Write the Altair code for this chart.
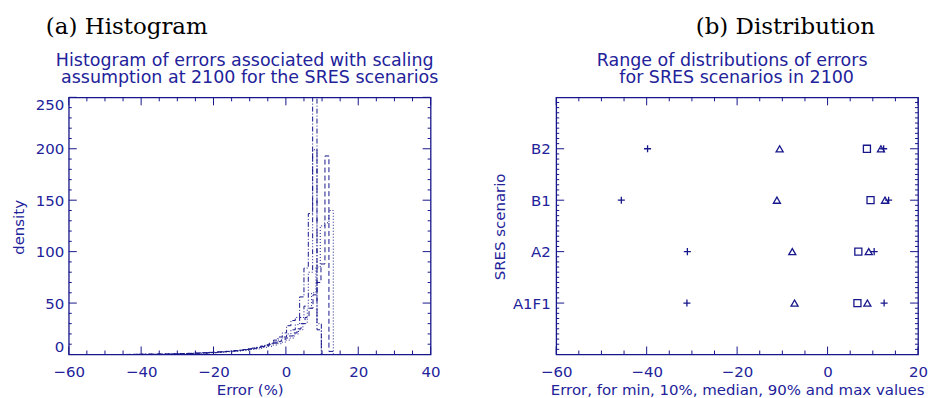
import altair as alt
import pandas as pd

NAVY = "#17178c"
TEXT = "#22229a"
SANS = "DejaVu Sans"
SERIF = "DejaVu Serif"

W, H = 363, 258          # plot area of each panel
MAJ, MINL = 8, 4         # inward tick lengths

# ---------------- text ----------------
caption_a = "(a) Histogram"
caption_b = "(b) Distribution"
title_a = ["Histogram of errors associated with scaling",
           "assumption at 2100 for the SRES scenarios"]
title_b = ["Range of distributions of errors",
           "for SRES scenarios in 2100"]
xtitle_a = "Error (%)"
ytitle_a = "density"
xtitle_b = "Error, for min, 10%, median, 90% and max values"
ytitle_b = "SRES scenario"

# ---------------- histogram data ----------------
series_names = ["dashdotdot", "dotted", "dashed", "dashdot"]
series_dash = [[5, 2, 1, 2, 1, 2, 1, 2], [1, 2], [5, 3], [5, 2, 1, 2]]
hist_start = [-31.0, -42.1, -44.2, -40.6]
hist_width = [1.2, 1.2, 1.1, 1.2]
hist_s1 = [0.3, 0.5, 0.6, 0.8, 0.9, 1.1, 1.3, 1.5, 1.8, 2.0,
           2.3, 2.6, 3.0, 3.3, 3.7, 4.2, 4.7, 5.3, 6.0, 6.8,
           7.8, 9.0, 10.5, 12, 14, 17, 20, 24, 29, 36, 47, 80,
           199, 30]
hist_dotted = [0.2, 0.1, 0.3, 0.2, 0.3, 0.4, 0.3, 0.5, 0.5, 0.6,
               0.7, 0.8, 0.8, 1.0, 1.1, 1.3, 1.2, 1.5, 1.7, 1.9,
               2.2, 2.4, 2.7, 3.0, 3.4, 3.8, 4.2, 4.8, 5.4, 6.0,
               7.0, 8.0, 9.2, 10.5, 12, 14, 16, 20, 24, 30, 45, 60, 85, 125, 128,
               140]
hist_dashed = [0.1, 0.2, 0.2, 0.3, 0.2, 0.4, 0.3, 0.5, 0.4, 0.6,
               0.6, 0.8, 0.7, 1.0, 0.9, 1.2, 1.1, 1.5, 1.4, 1.8,
               1.7, 2.1, 2.3, 2.6, 2.5, 3.0, 3.2, 3.6, 3.9, 4.3,
               4.8, 5.4, 6.0, 6.8, 7.6, 8.5, 9.6, 11, 12.5, 14,
               16, 18, 21, 25, 30, 36, 45, 58, 70, 88,
               193, 3]
hist_dashdot = [0.3, 0.2, 0.4, 0.3, 0.5, 0.4, 0.6, 0.5, 0.8, 0.7,
                1.0, 0.9, 1.3, 1.2, 1.6, 1.5, 2.0, 1.8, 2.4, 2.6,
                3.0, 3.3, 3.8, 4.2, 4.8, 5.5, 6.2, 7.0, 8.2, 9.5,
                11, 14, 17, 21, 28, 33, 36, 56, 84, 137, 250, 24]
hist_values = [hist_s1, hist_dotted, hist_dashed, hist_dashdot]

# ---------------- distribution data ----------------
scenarios = ["A1F1", "A2", "B1", "B2"]
scen_pos = [1, 2, 3, 4]
err_min = [-31.1, -31.0, -45.6, -39.8]
err_p10 = [-7.3, -7.8, -11.2, -10.6]
err_med = [6.6, 6.8, 9.5, 8.7]
err_p90 = [8.8, 9.1, 12.7, 11.8]
err_max = [12.5, 10.3, 13.5, 12.4]

# ---------------- axis tick values ----------------
xa_major = [-60, -40, -20, 0, 20, 40]
xa_minor = [v for v in range(-60, 41, 5) if v % 20]
ya_major = [0, 50, 100, 150, 200, 250]
ya_minor = [v for v in range(0, 251, 10) if v % 50]
xb_major = [-60, -40, -20, 0, 20]
xb_minor = [v for v in range(-60, 21, 5) if v % 20]
yb_major = [1, 2, 3, 4]
yb_minor = [i / 10 for i in range(0, 51) if i % 10]

# ---------------- build tables ----------------
rows = []
for name, start, width, vals in zip(series_names, hist_start, hist_width, hist_values):
    rows.append({"series": name, "order": 0, "x": start, "y": 0.0})
    for i, v in enumerate(vals):
        rows.append({"series": name, "order": i + 1, "x": start + i * width, "y": v})
    rows.append({"series": name, "order": len(vals) + 1,
                 "x": start + len(vals) * width, "y": 0.0})
hist_df = pd.DataFrame(rows)

prow = []
for s, p, a, b, c, d, e in zip(scenarios, scen_pos, err_min, err_p10, err_med, err_p90, err_max):
    prow += [{"scen": s, "pos": p, "v": a, "mk": "plus"},
             {"scen": s, "pos": p, "v": b, "mk": "tri"},
             {"scen": s, "pos": p, "v": c, "mk": "sq"},
             {"scen": s, "pos": p, "v": d, "mk": "tri"},
             {"scen": s, "pos": p, "v": e, "mk": "plus"}]
pts_df = pd.DataFrame(prow)

xs_a = alt.Scale(domain=[-60, 40], nice=False, zero=False)
ys_a = alt.Scale(domain=[0, 250], nice=False)
xs_b = alt.Scale(domain=[-60, 20], nice=False, zero=False)
ys_b = alt.Scale(domain=[0, 5], nice=False)

COMMON = dict(ticks=False, tickSize=0, domain=False, grid=False,
              labelFont=SANS, labelFontSize=15, labelColor=TEXT,
              titleFont=SANS, titleFontSize=15, titleFontWeight="normal", titleColor=TEXT)


def xaxis(vals, title):
    return alt.Axis(values=vals, title=title, labelPadding=10, labelFlush=False, format="d",
                    titleX=W / 2, titleY=40, titleAlign="center", titleBaseline="alphabetic",
                    **COMMON)


ax_xa = xaxis(xa_major, xtitle_a)
ax_ya = alt.Axis(values=ya_major, title=ytitle_a, labelPadding=5, labelFlush=True, format="d",
                 titleX=-45, titleY=130, titleAlign="center", titleBaseline="alphabetic",
                 titleAngle=270, **COMMON)
ax_xb = xaxis(xb_major, xtitle_b)
label_expr = " : ".join(f"datum.value == {p} ? '{s}'" for p, s in zip(scen_pos, scenarios)) + " : ''"
ax_yb = alt.Axis(values=yb_major, labelExpr=label_expr, title=ytitle_b, labelPadding=6,
                 titleX=-52, titleY=129.5, titleAlign="center", titleBaseline="alphabetic",
                 titleAngle=270, **COMMON)


def tick_layers(xs, ys, axx, axy, xmaj, xmin, ymaj, ymin):
    out = []
    for vals, ln in ((xmaj, MAJ), (xmin, MINL)):
        base = alt.Chart(pd.DataFrame({"t": vals})).mark_rule(color=NAVY, strokeWidth=1)
        out.append(base.encode(x=alt.X("t:Q", scale=xs, axis=axx),
                               y=alt.value(H), y2=alt.value(H - ln)))
        out.append(base.encode(x=alt.X("t:Q", scale=xs, axis=axx),
                               y=alt.value(0), y2=alt.value(ln)))
    for vals, ln in ((ymaj, MAJ), (ymin, MINL - 1)):
        base = alt.Chart(pd.DataFrame({"t": vals})).mark_rule(color=NAVY, strokeWidth=1)
        out.append(base.encode(y=alt.Y("t:Q", scale=ys, axis=axy),
                               x=alt.value(0), x2=alt.value(ln)))
        out.append(base.encode(y=alt.Y("t:Q", scale=ys, axis=axy),
                               x=alt.value(W), x2=alt.value(W - ln)))
    return out


def text_layer(txt, x, y, font, size, color, align):
    return alt.Chart(pd.DataFrame({"t": [txt]})).mark_text(
        font=font, fontSize=size, color=color, align=align, baseline="alphabetic"
    ).encode(text="t:N", x=alt.value(x), y=alt.value(y))


# ---------------- panel (a) ----------------
lines = alt.Chart(hist_df).mark_line(
    interpolate="step-after", strokeWidth=1, color=NAVY, clip=True
).encode(
    x=alt.X("x:Q", scale=xs_a, axis=ax_xa),
    y=alt.Y("y:Q", scale=ys_a, axis=ax_ya),
    detail="series:N",
    strokeDash=alt.StrokeDash("series:N", scale=alt.Scale(domain=series_names, range=series_dash),
                              legend=None),
    order="order:Q",
)

panel_a = alt.layer(
    lines,
    *tick_layers(xs_a, ys_a, ax_xa, ax_ya, xa_major, xa_minor, ya_major, ya_minor),
    text_layer(caption_a, -23, -64, SERIF, 23, "black", "left"),
    text_layer(title_a[0], 176.5, -31, SANS, 17.5, TEXT, "center"),
    text_layer(title_a[1], 181.5, -14, SANS, 17.5, TEXT, "center"),
).properties(width=W, height=H)

# ---------------- panel (b) ----------------
plus_path = "M-1,0H1M0,-1V1"
points = alt.Chart(pts_df).mark_point(
    filled=False, color=NAVY, strokeWidth=1.3, size=50, opacity=1
).encode(
    x=alt.X("v:Q", scale=xs_b, axis=ax_xb),
    y=alt.Y("pos:Q", scale=ys_b, axis=ax_yb),
    shape=alt.Shape("mk:N", scale=alt.Scale(domain=["plus", "tri", "sq"],
                                            range=[plus_path, "triangle-up", "square"]),
                    legend=None),
)

panel_b = alt.layer(
    points,
    *tick_layers(xs_b, ys_b, ax_xb, ax_yb, xb_major, xb_minor, yb_major, yb_minor),
    text_layer(caption_b, 140, -64, SERIF, 23, "black", "left"),
    text_layer(title_b[0], 176.5, -31, SANS, 17.5, TEXT, "center"),
    text_layer(title_b[1], 181, -14, SANS, 17.5, TEXT, "center"),
).properties(width=W, height=H)

chart = alt.hconcat(panel_a, panel_b, spacing=126, bounds="flush").properties(
    padding={"left": 11, "top": 14, "right": 0, "bottom": 0}, background="white"
).configure_view(stroke=NAVY, strokeWidth=1.3)

chart.save("out.html", embed_options={"renderer": "svg", "actions": False})
